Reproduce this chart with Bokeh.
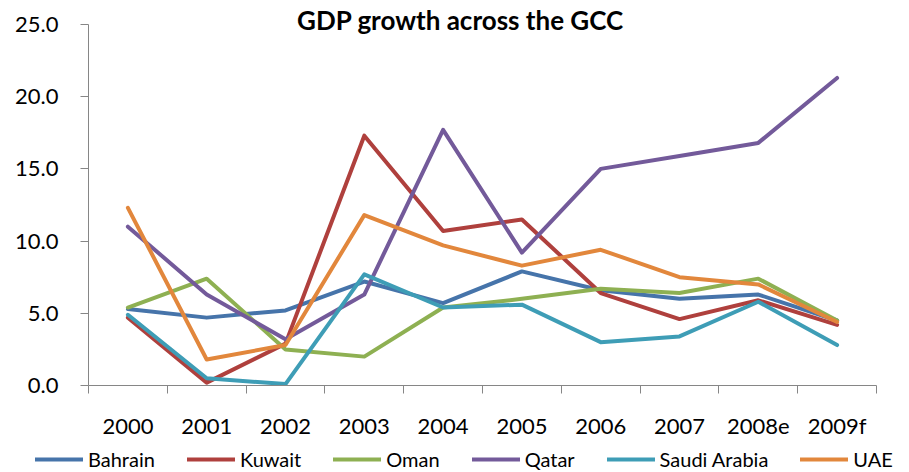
from bokeh.plotting import figure
from bokeh.models import (FixedTicker, NumeralTickFormatter, Range1d, Legend, LegendItem,
                          Label, ColumnDataSource, LinearAxis)
from bokeh.embed import file_html
from bokeh.resources import INLINE

categories = ["2000", "2001", "2002", "2003", "2004", "2005", "2006", "2007", "2008e", "2009f"]
bahrain = [5.3, 4.7, 5.2, 7.2, 5.7, 7.9, 6.6, 6.0, 6.3, 4.5]
kuwait = [4.7, 0.2, 2.9, 17.3, 10.7, 11.5, 6.4, 4.6, 5.9, 4.2]
oman = [5.4, 7.4, 2.5, 2.0, 5.4, 6.0, 6.7, 6.4, 7.4, 4.5]
qatar = [11.0, 6.3, 3.2, 6.3, 17.7, 9.2, 15.0, 15.9, 16.8, 21.3]
saudi = [4.9, 0.5, 0.1, 7.7, 5.4, 5.6, 3.0, 3.4, 5.8, 2.8]
uae = [12.3, 1.8, 2.8, 11.8, 9.7, 8.3, 9.4, 7.5, 7.0, 4.4]
y_ticks = [0, 5, 10, 15, 20, 25]

series_names = ["Bahrain", "Kuwait", "Oman", "Qatar", "Saudi Arabia", "UAE"]
series_values = [bahrain, kuwait, oman, qatar, saudi, uae]
colors = ["#4674AA", "#AF403D", "#8EB052", "#735A9A", "#3E9DB6", "#E2873C"]

xs = list(range(1, len(categories) + 1))
FONT = "Lato"

# layout (pixels) of the plotting area inside the canvas
W, H = 909, 472
PL, PR, PT, PB = 88, 876, 24, 385
n = len(categories)
ymax = y_ticks[-1]
ppx = (PR - PL) / n
ppy = (PB - PT) / ymax
x0, x1 = 0.5, n + 0.5
x_range = Range1d(x0 - PL / ppx, x1 + (W - PR) / ppx)
y_range = Range1d(0 - (H - PB) / ppy, ymax + PT / ppy)

p = figure(width=W, height=H, output_backend="svg", toolbar_location=None,
           x_range=x_range, y_range=y_range, x_axis_location=None, y_axis_location=None,
           min_border=0)
p.outline_line_color = None
p.grid.visible = False
p.background_fill_color = "white"
p.border_fill_color = "white"

renderers = []
for name, vals, col in zip(series_names, series_values, colors):
    src = ColumnDataSource(dict(x=xs, y=vals))
    r = p.line("x", "y", source=src, line_color=col, line_width=4,
               line_join="round", line_cap="round")
    renderers.append(r)

# x axis
xa = LinearAxis(fixed_location=0, bounds=(x0, x1))
xa.ticker = FixedTicker(ticks=xs, minor_ticks=[x - 0.5 for x in xs] + [xs[-1] + 0.5])
xa.major_label_overrides = {x: c for x, c in zip(xs, categories)}
xa.major_tick_out = 0
xa.major_tick_in = 0
xa.minor_tick_out = 8
xa.minor_tick_in = 0
xa.axis_line_color = "#868686"
xa.minor_tick_line_color = "#868686"
xa.major_label_text_font = FONT
xa.major_label_text_font_size = "22px"
xa.major_label_text_color = "black"
xa.major_label_standoff = 18
p.add_layout(xa, "below")

# y axis
ya = LinearAxis(fixed_location=x0, bounds=(0, ymax))
ya.ticker = FixedTicker(ticks=y_ticks, minor_ticks=[])
ya.formatter = NumeralTickFormatter(format="0.0")
ya.major_tick_out = 8
ya.major_tick_in = 0
ya.minor_tick_out = 0
ya.minor_tick_in = 0
ya.axis_line_color = "#868686"
ya.major_tick_line_color = "#868686"
ya.major_label_text_font = FONT
ya.major_label_text_font_size = "22px"
ya.major_label_text_color = "black"
ya.major_label_standoff = 22
p.add_layout(ya, "left")

# title
title = Label(x=(n + 1) / 2, y=ymax, x_offset=-22, y_offset=5,
              text="GDP growth across the GCC", text_font=FONT, text_font_style="bold",
              text_font_size="26px", text_align="center", text_baseline="alphabetic",
              text_color="black")
p.add_layout(title)

legend = Legend(items=[LegendItem(label=nm, renderers=[r]) for nm, r in zip(series_names, renderers)],
                orientation="horizontal", location=(35, 1),
                glyph_width=48, glyph_height=20, label_height=20, label_standoff=5,
                spacing=32, padding=0, margin=0, border_line_color=None,
                background_fill_alpha=0, label_text_font=FONT, label_text_font_size="20px",
                label_text_color="black")
p.add_layout(legend)

open("out.html", "w").write(file_html(p, INLINE))
